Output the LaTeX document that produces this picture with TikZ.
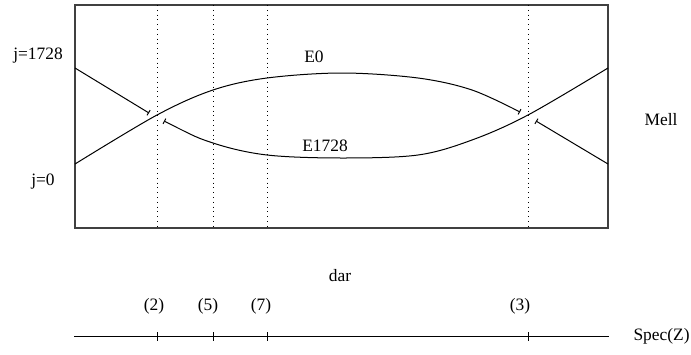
\documentclass[tikz,border=0pt]{standalone}
\usepackage{fontspec}
\setmainfont{Liberation Serif}
\usetikzlibrary{arrows.meta}
\begin{document}
\begin{tikzpicture}[x=0.5pt,y=-0.5pt,
  font=\fontsize{8.7}{10}\selectfont,
  frame/.style={draw=black!75,line width=0.7pt},
  curve/.style={line width=0.5pt},
  teeend/.style={-{Bar[width=3pt,line width=0.5pt]}},
  dotline/.style={line width=0.5pt,dash pattern=on 0.5pt off 1.9pt},
  lbl/.style={inner sep=0pt}]
\useasboundingbox (0,0) rectangle (691,354);
% frame
\draw[frame] (75,5) rectangle (608,228);
% dotted verticals
\foreach \n/\x in {a/157,b/213,c/267,d/528}{
  \coordinate (top\n) at (\x,5);
  \coordinate (bot\n) at (\x,228);
  \draw[dotline] (top\n) -- (bot\n);
}
% curves
\draw[curve,teeend] plot[smooth,tension=0.55] coordinates {(75,164) (157,115) (213,90) (267,78) (342,73) (418,78) (472,90) (520,112)};
\draw[curve,{Bar[width=3pt,line width=0.5pt]}-] plot[smooth,tension=0.55] coordinates {(164,121) (213,143) (267,155) (342,158) (418,155) (472,140) (528,115) (608,68)};
\coordinate (bs) at (75,68);
\coordinate (be) at (149,113);
\draw[curve,teeend] (bs) -- (be);
\coordinate (ds) at (608,164);
\coordinate (de) at (536,121);
\draw[curve,teeend] (ds) -- (de);
% labels
\node[lbl] (j1728) at (38,56) {j=1728};
\node[lbl] (j0) at (43,182) {j=0};
\node[lbl] (e0) at (314,57) {E0};
\node[lbl] (e1728) at (325,146) {E1728};
\node[lbl] (mell) at (661,120) {Mell};
\node[lbl] (dar) at (340,276) {dar};
% bottom axis
\coordinate (axL) at (74,336.5);
\coordinate (axR) at (609,336.5);
\draw[curve] (axL) -- (axR);
\foreach \n/\x/\lx/\t in {a/157/154/(2),b/213/208/(5),c/267/261/(7),d/528/520/(3)}{
  \coordinate (tu\n) at (\x,332);
  \coordinate (td\n) at (\x,341);
  \draw[curve] (tu\n) -- (td\n);
  \node[lbl] (lab\n) at (\lx,306) {\t};
}
\node[lbl,anchor=east] (spec) at (690,336) {Spec(Z)};
\end{tikzpicture}
\end{document}
